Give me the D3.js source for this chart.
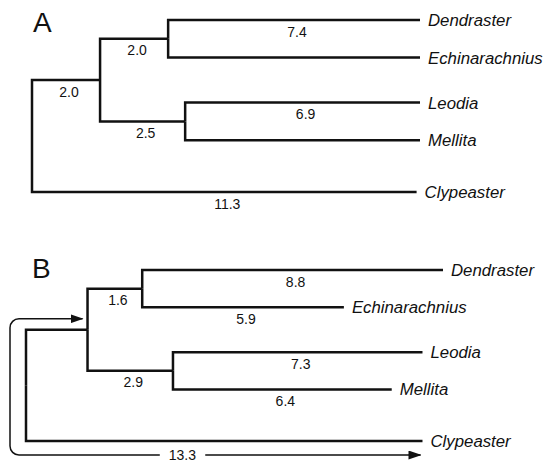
<!DOCTYPE html>
<html><head><meta charset="utf-8">
<script src="https://cdn.jsdelivr.net/npm/d3@7"></script>
<style>
body{margin:0;background:#fff}
svg{display:block}
text{font-family:"Liberation Sans",Arial,Helvetica,sans-serif;fill:#111}
</style>
</head><body>
<script>
// ---------- DATA ----------
const panelLetters = ["A", "B"];
const nodeIds   = ["root", "n1", "nDE", "nLM", "Dendraster", "Echinarachnius", "Leodia", "Mellita", "Clypeaster"];
const parentIds = ["", "root", "n1", "n1", "nDE", "nDE", "nLM", "nLM", "root"];
const taxa = ["Dendraster", "Echinarachnius", "Leodia", "Mellita", "Clypeaster"];

// Panel A: branch lengths (as drawn) and printed branch labels
const lengthsA = [0, 2.0, 2.0, 2.5, 7.4, 7.4, 6.9, 6.9, 11.3];
const labelsA  = ["", "2.0", "2.0", "2.5", "7.4", "", "6.9", "", "11.3"];

// Panel B: branch lengths (as drawn) and printed branch labels
const lengthsB = [0, 1.8, 1.6, 2.5, 8.8, 5.9, 7.3, 6.4, 11.6];
const labelsB  = ["", "", "1.6", "2.9", "8.8", "5.9", "7.3", "6.4", ""];
const arrowLabelB = "13.3";

// ---------- LAYOUT ----------
const W = 544, H = 462;
const svg = d3.select("body").append("svg").attr("width", W).attr("height", H);

const defs = svg.append("defs");
defs.append("marker")
  .attr("id", "arrow")
  .attr("viewBox", "0 0 13 9")
  .attr("refX", 12).attr("refY", 4.5)
  .attr("markerWidth", 13).attr("markerHeight", 9)
  .attr("markerUnits", "userSpaceOnUse")
  .attr("orient", "auto-start-reverse")
  .append("path").attr("d", "M0,0 L13,4.5 L0,9 Z").attr("fill", "#111");

const panels = [
  { letter: panelLetters[0], lengths: lengthsA, labels: labelsA,
    xRange: [32, 420], xMax: 11.4, yRange: [20, 192], letterPos: [33, 32], arrow: false },
  { letter: panelLetters[1], lengths: lengthsB, labels: labelsB,
    xRange: [26, 443], xMax: 12.2, yRange: [270, 441], letterPos: [32, 278], arrow: true }
];

function separation(a, b) {
  if (a.parent === b.parent) return 1;
  if (a.parent.parent === b.parent.parent) return 1.2;
  return 1.38;
}

panels.forEach(p => {
  const table = nodeIds.map((id, i) => ({
    id, parent: parentIds[i] || null, length: p.lengths[i], label: p.labels[i]
  }));
  const root = d3.stratify().id(d => d.id).parentId(d => d.parent)(table);
  d3.cluster().nodeSize([1, 1]).separation(separation)(root);
  root.eachBefore(d => { d.dist = (d.parent ? d.parent.dist : 0) + d.data.length; });

  const x = d3.scaleLinear().domain([0, p.xMax]).range(p.xRange);
  const y = d3.scaleLinear().domain(d3.extent(root.leaves(), d => d.x)).range(p.yRange);

  const g = svg.append("g");

  // branches (elbows)
  g.selectAll("path.branch")
    .data(root.descendants().filter(d => d.parent))
    .join("path")
    .attr("class", "branch")
    .attr("d", d => `M${x(d.parent.dist)},${y(d.parent.x)}V${y(d.x)}H${x(d.dist)}`)
    .attr("fill", "none")
    .attr("stroke", "#111")
    .attr("stroke-width", 2.5)
    .attr("stroke-linejoin", "miter")
    .attr("stroke-linecap", "butt");

  // branch length labels
  g.selectAll("text.blen")
    .data(root.descendants().filter(d => d.parent && d.data.label))
    .join("text")
    .attr("class", "blen")
    .attr("x", d => (x(d.parent.dist) + x(d.dist)) / 2 + 3)
    .attr("y", d => y(d.x) + 16.5)
    .attr("text-anchor", "middle")
    .attr("font-size", 14)
    .text(d => d.data.label);

  // taxon labels
  g.selectAll("text.taxon")
    .data(root.leaves().filter(d => taxa.includes(d.id)))
    .join("text")
    .attr("class", "taxon")
    .attr("x", d => x(d.dist) + 8)
    .attr("y", d => y(d.x) + 6)
    .attr("font-size", 16.8)
    .attr("font-style", "italic")
    .text(d => d.id);

  // panel letter
  g.append("text")
    .attr("x", p.letterPos[0]).attr("y", p.letterPos[1])
    .attr("font-size", 28)
    .text(p.letter);

  if (p.arrow) {
    const n1 = root.children[0];
    const clyp = root.children[1];
    const topY = y(n1.x) - 11;
    const tipX = x(n1.dist) - 5;
    const leftX = x(0) - 16;
    const botY = y(clyp.x) + 14;
    const rightX = x(clyp.dist) - 2;
    const r = 9;
    g.append("path")
      .attr("d", `M${tipX},${topY}H${leftX + r}A${r},${r} 0 0 0 ${leftX},${topY + r}V${botY - r}A${r},${r} 0 0 0 ${leftX + r},${botY}H${rightX}`)
      .attr("fill", "none")
      .attr("stroke", "#111")
      .attr("stroke-width", 1.5)
      .attr("marker-start", "url(#arrow)")
      .attr("marker-end", "url(#arrow)");
    const lx = leftX + (rightX - leftX) * 0.42;
    const t = g.append("text")
      .attr("x", lx).attr("y", botY + 5)
      .attr("text-anchor", "middle")
      .attr("font-size", 14)
      .text(arrowLabelB);
    const bb = t.node().getBBox();
    g.insert("rect", "text:last-of-type")
      .attr("x", bb.x - 9).attr("y", botY - 4)
      .attr("width", bb.width + 18).attr("height", 8)
      .attr("fill", "#fff");
    t.raise();
  }
});
</script>
</body></html>
